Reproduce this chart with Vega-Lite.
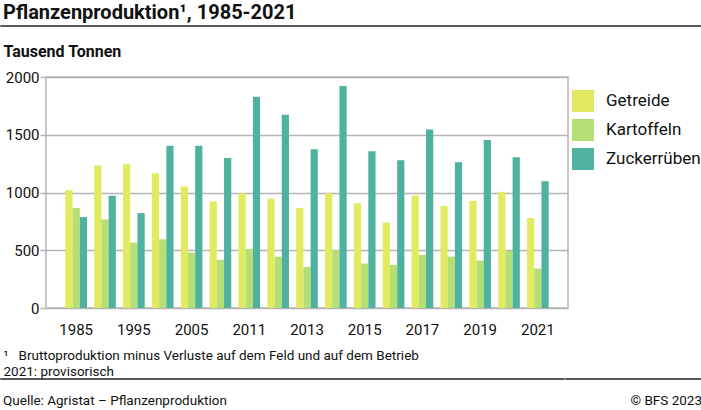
{
  "$schema": "https://vega.github.io/schema/vega-lite/v6.json",
  "padding": {"top": 2, "left": 0, "right": 0, "bottom": 0},
  "background": "white",
  "config": {"font": "Roboto", "title": {"color": "#111"}, "axis": {"labelColor": "#111", "titleColor": "#111"}, "legend": {"labelColor": "#111"}},
  "resolve": {"legend": {"color": "independent"}},
  "spacing": 15,
  "vconcat": [
    {
      "width": 701,
      "height": 0.01,
      "data": {"values": []},
      "mark": {"type": "point", "opacity": 0},
      "view": {"stroke": "#222", "strokeWidth": 1.5},
      "title": {"text": "Pflanzenproduktion¹, 1985-2021", "anchor": "start", "fontSize": 20, "fontWeight": "bold", "font": "Roboto", "offset": 3, "dx": 2}
    },
    {
      "spacing": -2,
      "resolve": {"legend": {"color": "independent"}},
      "vconcat": [
        {
          "spacing": 0,
          "resolve": {"legend": {"color": "independent"}},
          "hconcat": [
            {
              "width": 0.01,
              "height": 0.01,
              "data": {"values": []},
              "mark": {"type": "point", "opacity": 0},
              "view": {"stroke": null}
            },
            {
              "width": 522,
              "height": 231,
              "view": {"stroke": "#b5b5b5", "strokeWidth": 1.5},
              "data": {"values": [
                {"Jahr": "1985", "Kultur": "Getreide", "Wert": 1020}, {"Jahr": "1985", "Kultur": "Kartoffeln", "Wert": 865}, {"Jahr": "1985", "Kultur": "Zuckerrüben", "Wert": 787},
                {"Jahr": "1990", "Kultur": "Getreide", "Wert": 1233}, {"Jahr": "1990", "Kultur": "Kartoffeln", "Wert": 767}, {"Jahr": "1990", "Kultur": "Zuckerrüben", "Wert": 971},
                {"Jahr": "1995", "Kultur": "Getreide", "Wert": 1244}, {"Jahr": "1995", "Kultur": "Kartoffeln", "Wert": 566}, {"Jahr": "1995", "Kultur": "Zuckerrüben", "Wert": 822},
                {"Jahr": "2000", "Kultur": "Getreide", "Wert": 1167}, {"Jahr": "2000", "Kultur": "Kartoffeln", "Wert": 595}, {"Jahr": "2000", "Kultur": "Zuckerrüben", "Wert": 1405},
                {"Jahr": "2005", "Kultur": "Getreide", "Wert": 1052}, {"Jahr": "2005", "Kultur": "Kartoffeln", "Wert": 480}, {"Jahr": "2005", "Kultur": "Zuckerrüben", "Wert": 1405},
                {"Jahr": "2010", "Kultur": "Getreide", "Wert": 922}, {"Jahr": "2010", "Kultur": "Kartoffeln", "Wert": 417}, {"Jahr": "2010", "Kultur": "Zuckerrüben", "Wert": 1299},
                {"Jahr": "2011", "Kultur": "Getreide", "Wert": 994}, {"Jahr": "2011", "Kultur": "Kartoffeln", "Wert": 512}, {"Jahr": "2011", "Kultur": "Zuckerrüben", "Wert": 1828},
                {"Jahr": "2012", "Kultur": "Getreide", "Wert": 946}, {"Jahr": "2012", "Kultur": "Kartoffeln", "Wert": 445}, {"Jahr": "2012", "Kultur": "Zuckerrüben", "Wert": 1673},
                {"Jahr": "2013", "Kultur": "Getreide", "Wert": 865}, {"Jahr": "2013", "Kultur": "Kartoffeln", "Wert": 356}, {"Jahr": "2013", "Kultur": "Zuckerrüben", "Wert": 1374},
                {"Jahr": "2014", "Kultur": "Getreide", "Wert": 994}, {"Jahr": "2014", "Kultur": "Kartoffeln", "Wert": 500}, {"Jahr": "2014", "Kultur": "Zuckerrüben", "Wert": 1923},
                {"Jahr": "2015", "Kultur": "Getreide", "Wert": 908}, {"Jahr": "2015", "Kultur": "Kartoffeln", "Wert": 385}, {"Jahr": "2015", "Kultur": "Zuckerrüben", "Wert": 1357},
                {"Jahr": "2016", "Kultur": "Getreide", "Wert": 739}, {"Jahr": "2016", "Kultur": "Kartoffeln", "Wert": 374}, {"Jahr": "2016", "Kultur": "Zuckerrüben", "Wert": 1279},
                {"Jahr": "2017", "Kultur": "Getreide", "Wert": 974}, {"Jahr": "2017", "Kultur": "Kartoffeln", "Wert": 460}, {"Jahr": "2017", "Kultur": "Zuckerrüben", "Wert": 1546},
                {"Jahr": "2018", "Kultur": "Getreide", "Wert": 882}, {"Jahr": "2018", "Kultur": "Kartoffeln", "Wert": 445}, {"Jahr": "2018", "Kultur": "Zuckerrüben", "Wert": 1262},
                {"Jahr": "2019", "Kultur": "Getreide", "Wert": 928}, {"Jahr": "2019", "Kultur": "Kartoffeln", "Wert": 411}, {"Jahr": "2019", "Kultur": "Zuckerrüben", "Wert": 1454},
                {"Jahr": "2020", "Kultur": "Getreide", "Wert": 1006}, {"Jahr": "2020", "Kultur": "Kartoffeln", "Wert": 494}, {"Jahr": "2020", "Kultur": "Zuckerrüben", "Wert": 1305},
                {"Jahr": "2021", "Kultur": "Getreide", "Wert": 779}, {"Jahr": "2021", "Kultur": "Kartoffeln", "Wert": 342}, {"Jahr": "2021", "Kultur": "Zuckerrüben", "Wert": 1098}
              ]},
              "mark": {"type": "bar"},
              "encoding": {
                "x": {
                  "field": "Jahr", "type": "nominal", "sort": null,
                  "scale": {"paddingInner": 0.25, "paddingOuter": 0.67},
                  "axis": {
                    "values": ["1985", "1995", "2005", "2011", "2013", "2015", "2017", "2019", "2021"],
                    "labelAngle": 0, "labelFontSize": 15, "labelPadding": 14, "ticks": false, "domain": false, "grid": false,
                    "title": ["¹\u00a0\u00a0\u00a0Bruttoproduktion minus Verluste auf dem Feld und auf dem Betrieb", "2021: provisorisch"],
                    "titleFontSize": 13.5, "titleFontWeight": "normal", "titleLineHeight": 16,
                    "titleX": -43, "titleY": 51, "titleAlign": "left", "titleBaseline": "alphabetic", "titleAnchor": "start"
                  }
                },
                "xOffset": {"field": "Kultur", "type": "nominal", "sort": ["Getreide", "Kartoffeln", "Zuckerrüben"], "scale": {"paddingInner": 0, "paddingOuter": 0}},
                "y": {
                  "field": "Wert", "type": "quantitative",
                  "scale": {"domain": [0, 2000], "nice": false},
                  "axis": {
                    "values": [0, 500, 1000, 1500, 2000], "format": "d",
                    "labelFontSize": 15, "labelPadding": 1, "tickSize": 6, "tickColor": "#b5b5b5", "tickWidth": 1.5,
                    "domain": false, "grid": true, "gridColor": "#b5b5b5", "gridWidth": 1.5,
                    "title": "Tausend Tonnen", "titleAngle": 0, "titleFontSize": 16, "titleFontWeight": "bold",
                    "titleX": -43, "titleY": -21, "titleAlign": "left", "titleBaseline": "alphabetic", "titleAnchor": "start"
                  }
                },
                "color": {
                  "field": "Kultur", "type": "nominal",
                  "scale": {"domain": ["Getreide", "Kartoffeln", "Zuckerrüben"], "range": ["#e2ea5f", "#b4df74", "#4fb2a0"]},
                  "legend": {
                    "title": null, "orient": "right", "offset": -9, "padding": 13,
                    "symbolType": "square", "symbolSize": 484, "symbolStrokeWidth": 0, "symbolOpacity": 1,
                    "labelFontSize": 17, "labelOffset": 12, "rowPadding": 7
                  }
                }
              }
            }
          ]
        },
        {
          "spacing": 0,
          "hconcat": [
            {
              "width": 563,
              "height": 0.01,
              "data": {"values": []},
              "mark": {"type": "point", "opacity": 0},
              "view": {"stroke": "#222", "strokeWidth": 1.5},
              "title": {"text": "Quelle: Agristat – Pflanzenproduktion", "orient": "bottom", "anchor": "start", "fontSize": 13.5, "fontWeight": "normal", "offset": 15, "dx": 2}
            },
            {
              "width": 138,
              "height": 0.01,
              "data": {"values": []},
              "mark": {"type": "point", "opacity": 0},
              "view": {"stroke": "#222", "strokeWidth": 1.5},
              "title": {"text": "© BFS 2023", "orient": "bottom", "anchor": "end", "fontSize": 13.5, "fontWeight": "normal", "offset": 15, "dx": -2}
            }
          ]
        }
      ]
    }
  ]
}
